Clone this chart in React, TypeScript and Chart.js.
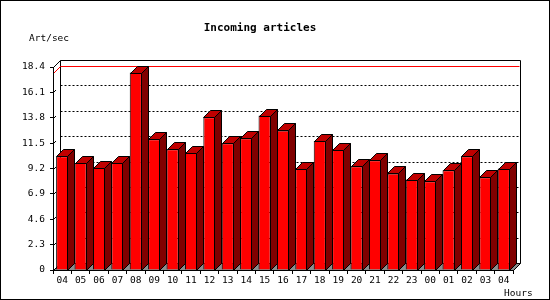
import React, { useEffect, useRef } from 'react';
import { Chart, registerables } from 'chart.js';

Chart.register(...registerables);

const categories = ['04', '05', '06', '07', '08', '09', '10', '11', '12', '13', '14', '15', '16', '17', '18', '19', '20', '21', '22', '23', '00', '01', '02', '03', '04'];
const articlesPerSec = [10.3, 9.7, 9.25, 9.7, 17.9, 11.85, 10.95, 10.6, 13.85, 11.5, 11.95, 14.0, 12.65, 9.2, 11.7, 10.9, 9.4, 9.95, 8.75, 8.2, 8.05, 9.05, 10.3, 8.4, 9.2];
const yTicks = [0, 2.3, 4.6, 6.9, 9.2, 11.5, 13.8, 16.1, 18.4];
const titleText = 'Incoming articles';
const yAxisTitle = 'Art/sec';
const xAxisTitle = 'Hours';

const DEPTH = 7;
const FONT = '"DejaVu Sans Mono", "Liberation Mono", monospace';

const frame3d = {
  id: 'frame3d',
  beforeDraw(chart: any) {
    const { ctx, chartArea: a } = chart;
    const y = chart.scales.y;
    const L = Math.round(a.left) + 0.5;
    const R = Math.round(a.right) + 0.5;
    const T = Math.round(a.top) + 0.5;
    const B = Math.round(a.bottom) + 0.5;
    const D = DEPTH;
    ctx.save();
    ctx.fillStyle = '#ffffff';
    ctx.fillRect(0, 0, chart.width, chart.height);
    ctx.strokeStyle = '#000';
    ctx.lineWidth = 1;
    ctx.strokeRect(0.5, 0.5, chart.width - 1, chart.height - 1);

    // texts
    ctx.fillStyle = '#000';
    ctx.textBaseline = 'alphabetic';
    ctx.font = 'bold 11px ' + FONT;
    ctx.textAlign = 'center';
    ctx.fillText(titleText, 260, 31);
    ctx.font = '9.5px ' + FONT;
    ctx.textAlign = 'left';
    ctx.fillText(yAxisTitle, 29, 41);
    ctx.fillText(xAxisTitle, 504, 296);

    // floor
    ctx.fillStyle = '#8c8c8c';
    ctx.beginPath();
    ctx.moveTo(L, B);
    ctx.lineTo(R, B);
    ctx.lineTo(R + D, B - D);
    ctx.lineTo(L + D, B - D);
    ctx.closePath();
    ctx.fill();

    // gridlines on back plane
    ctx.setLineDash([2, 2]);
    yTicks.forEach((v) => {
      if (v === 0 || v === yTicks[yTicks.length - 1]) return;
      const yy = Math.round(y.getPixelForValue(v)) + 0.5;
      ctx.beginPath();
      ctx.moveTo(L + D, yy - D);
      ctx.lineTo(R + D, yy - D);
      ctx.stroke();
    });
    ctx.setLineDash([]);

    // stubs on left wall
    yTicks.forEach((v) => {
      const yy = Math.round(y.getPixelForValue(v)) + 0.5;
      ctx.beginPath();
      ctx.moveTo(L, yy);
      ctx.lineTo(L + 2.5, yy - 2.5);
      ctx.stroke();
    });

    // back plane frame
    ctx.beginPath();
    ctx.moveTo(L, T);
    ctx.lineTo(L + D, T - D);
    ctx.lineTo(R + D, T - D);
    ctx.lineTo(R + D, B - D);
    ctx.lineTo(R, B);
    ctx.moveTo(L + D, T - D);
    ctx.lineTo(L + D, B - D);
    ctx.lineTo(R + D, B - D);
    ctx.moveTo(L, B);
    ctx.lineTo(L + D, B - D);
    ctx.stroke();

    // max line
    const maxV = Math.max(...articlesPerSec);
    const my = Math.round(y.getPixelForValue(maxV)) + 0.5;
    ctx.strokeStyle = '#ff0000';
    ctx.beginPath();
    ctx.moveTo(L, my);
    ctx.lineTo(L + D, my - D);
    ctx.lineTo(R + D - 1, my - D);
    ctx.stroke();
    ctx.restore();
  },
  afterDatasetsDraw(chart: any) {
    const { ctx } = chart;
    const meta = chart.getDatasetMeta(0);
    const D = DEPTH;
    ctx.save();
    ctx.strokeStyle = '#000';
    ctx.lineWidth = 1;
    meta.data.forEach((bar: any) => {
      const p = bar.getProps(['x', 'y', 'base', 'width'], true);
      const left = Math.round(p.x - p.width / 2) + 0.5;
      const right = Math.round(p.x + p.width / 2) - 0.5;
      const top = Math.round(p.y) + 0.5;
      const base = Math.round(p.base) + 0.5;
      // side
      ctx.fillStyle = '#800000';
      ctx.beginPath();
      ctx.moveTo(right, top);
      ctx.lineTo(right + D, top - D);
      ctx.lineTo(right + D, base - D);
      ctx.lineTo(right, base);
      ctx.closePath();
      ctx.fill();
      ctx.stroke();
      // top
      ctx.fillStyle = '#c00000';
      ctx.beginPath();
      ctx.moveTo(left, top);
      ctx.lineTo(left + D, top - D);
      ctx.lineTo(right + D, top - D);
      ctx.lineTo(right, top);
      ctx.closePath();
      ctx.fill();
      ctx.stroke();
    });
    ctx.restore();
  },
};

export default function App() {
  const ref = useRef<HTMLCanvasElement>(null);
  useEffect(() => {
    document.body.style.margin = '0';
    const canvas = ref.current!;
    const chart = new Chart(canvas, {
      type: 'bar',
      data: {
        labels: categories,
        datasets: [
          {
            label: yAxisTitle,
            data: articlesPerSec,
            backgroundColor: '#ff0000',
            borderColor: '#000000',
            borderWidth: 1,
            barPercentage: 0.66,
            categoryPercentage: 1,
          },
        ],
      },
      options: {
        animation: false,
        responsive: false,
        devicePixelRatio: 1,
        layout: { padding: { top: 67, left: 0, right: 37, bottom: 0 } },
        plugins: {
          legend: { display: false },
          title: { display: false },
          tooltip: { enabled: false },
        },
        scales: {
          x: {
            offset: true,
            grid: {
              offset: true,
              drawOnChartArea: false,
              drawTicks: true,
              tickLength: 4,
              color: '#000',
            },
            border: { display: true, color: '#000' },
            ticks: {
              color: '#000',
              font: { family: FONT, size: 9.5 },
              padding: 1,
              maxRotation: 0,
              autoSkip: false,
            },
            afterFit(scale: any) {
              scale.height = 30;
            },
          },
          y: {
            min: 0,
            max: yTicks[yTicks.length - 1],
            afterBuildTicks(scale: any) {
              scale.ticks = yTicks.map((v) => ({ value: v }));
            },
            grid: {
              drawOnChartArea: false,
              drawTicks: true,
              tickLength: 3,
              color: '#000',
            },
            border: { display: true, color: '#000' },
            ticks: {
              color: '#000',
              font: { family: FONT, size: 9.5 },
              padding: 5,
              callback: (v: any) => (v === 0 ? '0' : Number(v).toFixed(1)),
            },
            afterFit(scale: any) {
              scale.width = 53;
            },
          },
        },
      },
      plugins: [frame3d],
    });
    return () => chart.destroy();
  }, []);
  return (
    <div style={{ width: 550, height: 300 }}>
      <canvas ref={ref} width={550} height={300} style={{ display: 'block' }} />
    </div>
  );
}
